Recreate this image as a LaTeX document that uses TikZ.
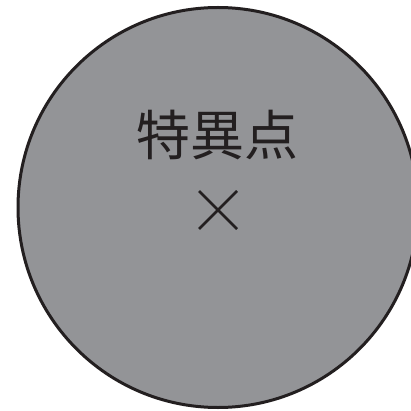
\documentclass[tikz,border=0pt]{standalone}
\usepackage{fontspec}
\newfontfamily\cjk{Noto Sans CJK JP}
\definecolor{fillgray}{HTML}{939497}
\definecolor{inkdark}{HTML}{231F20}
\begin{document}
\begin{tikzpicture}[x=1pt,y=-1pt,
  disc/.style={circle,draw=inkdark,fill=fillgray,line width=3pt,minimum size=400pt,inner sep=0pt},
  label/.style={font=\cjk\fontsize{54}{60}\selectfont,text=inkdark,inner sep=0pt},
  cross/.style={draw=inkdark,line width=2.6pt}]
\useasboundingbox (0,0) rectangle (411,411);
\node[disc] (c) at (218,207.5) {};
\node[label] (t) at (217.5,135) {特異点};
\coordinate (a1) at (199,191);
\coordinate (a2) at (237,229);
\coordinate (b1) at (237,191);
\coordinate (b2) at (199,229);
\draw[cross] (a1) -- (a2);
\draw[cross] (b1) -- (b2);
\end{tikzpicture}
\end{document}
